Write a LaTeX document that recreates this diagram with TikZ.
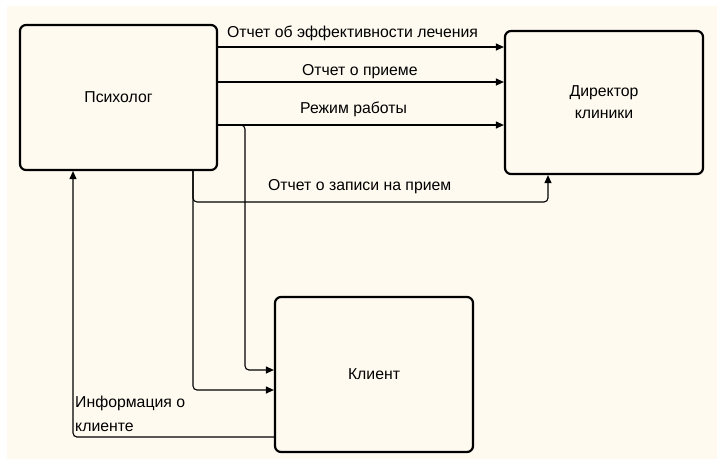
\documentclass[tikz,border=0pt]{standalone}
\usepackage{fontspec}
\setmainfont{Liberation Sans}
\usetikzlibrary{arrows.meta,positioning}
\definecolor{paper}{RGB}{254,250,240}
\tikzset{
  unit/.style={draw,line width=2.2pt,rounded corners=6pt,fill=paper,inner sep=0pt,align=center},
  flow/.style={line width=1.1pt,rounded corners=4pt,-{Triangle[length=8pt,width=7pt]}},
  lbl/.style={anchor=base west,inner sep=0pt}
}
\begin{document}
\begin{tikzpicture}[x=1pt,y=-1pt,font=\fontsize{15.8}{22}\selectfont]
  \useasboundingbox (0,0) rectangle (717,459);
  \fill[white] (0,0) rectangle (717,459);
  \fill[paper] (7,6) rectangle (717,459);
  % блоки
  \node[unit,minimum width=197pt,minimum height=145pt] (psych) at (118.5,97.5) {Психолог};
  \node[unit,minimum width=198pt,minimum height=143pt] (director) at (604,102.5) {Директор\\клиники};
  \node[unit,minimum width=198pt,minimum height=155pt] (client) at (374,374.5) {Клиент};
  % потоки
  \draw[flow] (psych.east |- 0,47) -- (director.west |- 0,47);
  \draw[flow] (psych.east |- 0,82) -- (director.west |- 0,82);
  \draw[flow] (psych.east |- 0,125) -- (director.west |- 0,125);
  \draw[flow] (230,125) -- (245,125) -- (245,370) -- (client.west |- 0,370);
  \draw[flow] (psych.south -| 193,0) -- (193,202) -- (548,202) -- (director.south -| 548,0);
  \draw[flow] (psych.south -| 193,0) -- (193,390) -- (client.west |- 0,390);
  \draw[flow] (client.west |- 0,437) -- (73,437) -- (psych.south -| 73,0);
  % подписи
  \node[lbl] (l1) at (227,37) {Отчет об эффективности лечения};
  \node[lbl] (l2) at (302,75) {Отчет о приеме};
  \node[lbl] (l3) at (300,113) {Режим работы};
  \node[lbl] (l4) at (268,190) {Отчет о записи на прием};
  \node[lbl] (l5) at (75,407) {Информация о};
  \node[lbl] (l6) at (75,431) {клиенте};
\end{tikzpicture}
\end{document}
